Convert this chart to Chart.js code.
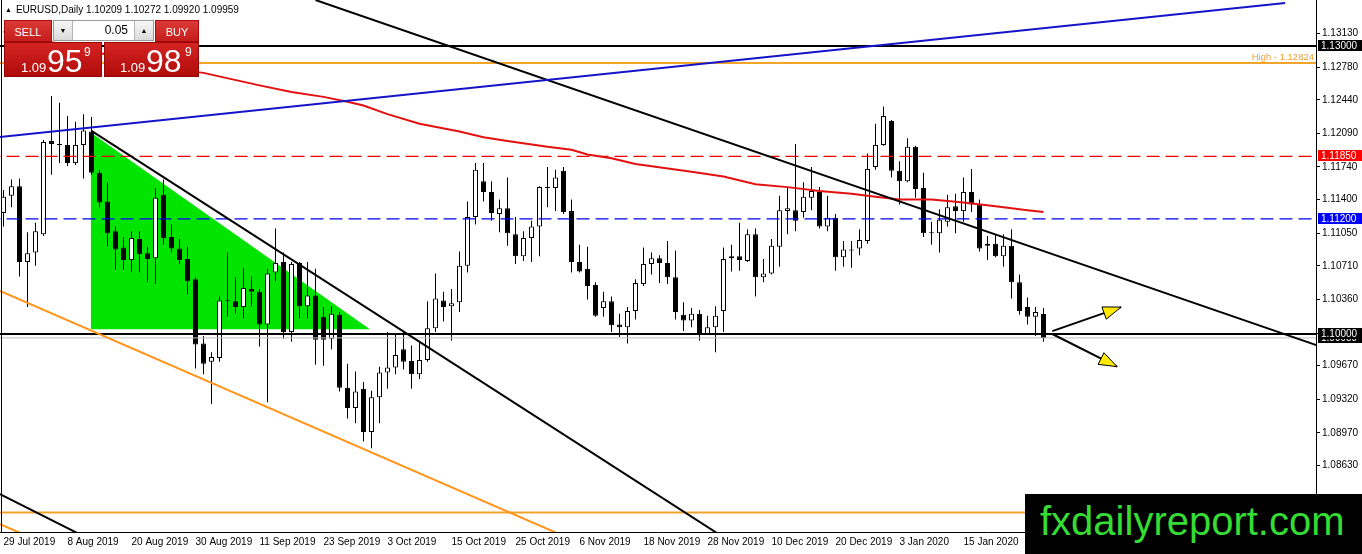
<!DOCTYPE html>
<html>
<head>
<meta charset="utf-8">
<title>EURUSD Daily</title>
<script src="https://cdn.jsdelivr.net/npm/chart.js@4.4.1/dist/chart.umd.min.js"></script>
<style>
  html, body { margin: 0; padding: 0; background: #fff; }
  #wrap { position: relative; width: 1362px; height: 554px; overflow: hidden; font-family: "Liberation Sans", Arial, sans-serif; }
  #chart { position: absolute; left: 0; top: 0; }
  .title { position: absolute; left: 5px; top: 4px; font-size: 10px; line-height: 12px; color: #000; white-space: nowrap; }
  .title .tri { font-size: 7px; vertical-align: 1px; margin-right: 4px; }
  .box { position: absolute; color: #fff; box-sizing: border-box; }
  .btn { top: 20px; height: 22px; font-size: 11px; line-height: 22px; text-align: center;
         background: linear-gradient(#dc3a36, #c51d1b); border: 1px solid #a80c0c; }
  .sell { left: 4px; width: 48px; }
  .buy { left: 155px; width: 44px; }
  .lot { position: absolute; left: 53px; top: 20px; width: 101px; height: 21px; box-sizing: border-box;
         background: #fff; border: 1px solid #9a9a9a; }
  .lot .arr { position: absolute; top: 0; width: 18px; height: 19px; font-size: 7px; line-height: 19px; text-align: center; color: #000;
              background: linear-gradient(#f7f7f7, #dadada); }
  .lot .dn { left: 0; border-right: 1px solid #b5b5b5; }
  .lot .up { right: 0; border-left: 1px solid #b5b5b5; }
  .lot .val { position: absolute; right: 25px; top: 0; font-size: 12px; line-height: 19px; color: #000; }
  .price { top: 42px; height: 35px; background: linear-gradient(#d42422, #b00b0b); border: 1px solid #960606; }
  .p1 { left: 4px; width: 98px; }
  .p2 { left: 104px; width: 95px; }
  .price span { position: absolute; white-space: nowrap; }
  .pre { font-size: 13px; line-height: 13px; top: 18px; }
  .big { font-size: 32px; line-height: 32px; top: 2px; }
  .sup { font-size: 12px; line-height: 12px; top: 3px; }
  .wm { position: absolute; left: 1025px; top: 494px; width: 337px; height: 60px; background: #000; }
  .wm span { position: absolute; left: 15px; top: 7px; font-size: 40px; line-height: 40px; color: #34dc34; white-space: nowrap; }
</style>
</head>
<body>
<div id="wrap">
  <canvas id="chart" width="1362" height="554"></canvas>
  <div class="title"><span class="tri">&#9650;</span>EURUSD,Daily 1.10209 1.10272 1.09920 1.09959</div>
  <div class="box btn sell">SELL</div>
  <div class="lot"><span class="arr dn">&#9660;</span><span class="val">0.05</span><span class="arr up">&#9650;</span></div>
  <div class="box btn buy">BUY</div>
  <div class="box price p1"><span class="pre" style="left:16px">1.09</span><span class="big" style="left:42px">95</span><span class="sup" style="left:79px">9</span></div>
  <div class="box price p2"><span class="pre" style="left:15px">1.09</span><span class="big" style="left:41px">98</span><span class="sup" style="left:80px">9</span></div>
  <div class="wm"><span>fxdailyreport.com</span></div>
</div>
<script>
// daily bars, 29 Jul 2019 .. 29 Jan 2020 (bar index 0..130)
const opens = [
  1.1126, 1.1144, 1.1154, 1.1075, 1.1085, 1.1104, 1.1201, 1.1198, 1.1197, 1.1178,
  1.1197, 1.1211, 1.1168, 1.1138, 1.1107, 1.1090, 1.1077, 1.1099, 1.1084, 1.1079,
  1.1145, 1.1101, 1.1089, 1.1078, 1.1057, 1.0990, 1.0971, 1.0975, 1.1035, 1.1034,
  1.1028, 1.1047, 1.1044, 1.1010, 1.1064, 1.1075, 1.1002, 1.1074, 1.1029, 1.1040,
  1.1018, 1.0995, 1.1020, 1.0944, 1.0923, 1.0943, 1.0898, 1.0934, 1.0960, 1.0965,
  1.0984, 1.0972, 1.0958, 1.0973, 1.1006, 1.1035, 1.1029, 1.1033, 1.1071, 1.1122,
  1.1159, 1.1148, 1.1125, 1.1131, 1.1104, 1.1081, 1.1100, 1.1112, 1.1153, 1.1152,
  1.1170, 1.1128, 1.1075, 1.1068, 1.1051, 1.1027, 1.1034, 1.1010, 1.1007, 1.1024,
  1.1052, 1.1073, 1.1079, 1.1074, 1.1059, 1.1020, 1.1014, 1.1021, 1.1000, 1.1007,
  1.1024, 1.1079, 1.1081, 1.1076, 1.1104, 1.1059, 1.1063, 1.1091, 1.1128, 1.1129,
  1.1127, 1.1142, 1.1148, 1.1112, 1.1121, 1.1080, 1.1088, 1.1089, 1.1097, 1.1174,
  1.1197, 1.1222, 1.1170, 1.1159, 1.1195, 1.1152, 1.1106, 1.1105, 1.1117, 1.1133,
  1.1128, 1.1148, 1.1135, 1.1094, 1.1094, 1.1081, 1.1092, 1.1054, 1.1028, 1.1018, 1.10209
];
const highs = [
  1.1150, 1.1161, 1.1162, 1.1106, 1.1116, 1.1202, 1.1248, 1.1241, 1.1227, 1.1221,
  1.1229, 1.1226, 1.1171, 1.1158, 1.1112, 1.1101, 1.1107, 1.1107, 1.1091, 1.1152,
  1.1161, 1.1114, 1.1099, 1.1091, 1.1059, 1.0998, 1.0981, 1.1039, 1.1085, 1.1059,
  1.1069, 1.1060, 1.1047, 1.1068, 1.1110, 1.1085, 1.1075, 1.1075, 1.1075, 1.1068,
  1.1028, 1.1029, 1.1023, 1.0969, 1.0961, 1.0950, 1.0941, 1.0966, 1.1002, 1.1000,
  1.1002, 1.0988, 1.0992, 1.1034, 1.1063, 1.1044, 1.1047, 1.1086, 1.1138, 1.1178,
  1.1178, 1.1159, 1.1140, 1.1163, 1.1122, 1.1107, 1.1118, 1.1154, 1.1174, 1.1171,
  1.1174, 1.1140, 1.1093, 1.1091, 1.1054, 1.1044, 1.1039, 1.1021, 1.1028, 1.1057,
  1.1090, 1.1085, 1.1082, 1.1097, 1.1087, 1.1033, 1.1027, 1.1025, 1.1019, 1.1029,
  1.1090, 1.1093, 1.1116, 1.1109, 1.1110, 1.1078, 1.1099, 1.1144, 1.1153, 1.1198,
  1.1158, 1.1174, 1.1153, 1.1144, 1.1125, 1.1097, 1.1097, 1.1109, 1.1188, 1.1219,
  1.1237, 1.1223, 1.1180, 1.1204, 1.1196, 1.1168, 1.1117, 1.1130, 1.1145, 1.1146,
  1.1163, 1.1172, 1.1140, 1.1102, 1.1103, 1.1104, 1.1109, 1.1062, 1.1038, 1.1028, 1.10272
];
const lows = [
  1.1112, 1.1132, 1.1060, 1.1028, 1.1071, 1.1102, 1.1166, 1.1178, 1.1175, 1.1176,
  1.1162, 1.1166, 1.1132, 1.1091, 1.1067, 1.1067, 1.1065, 1.1064, 1.1054, 1.1052,
  1.1093, 1.1085, 1.1073, 1.1041, 1.0964, 1.0958, 1.0927, 1.0971, 1.1018, 1.1021,
  1.1016, 1.1029, 1.0987, 1.0929, 1.1055, 1.0995, 1.0992, 1.1016, 1.1016, 1.0968,
  1.0967, 1.0984, 1.0940, 1.0912, 1.0907, 1.0888, 1.0881, 1.0907, 1.0943, 1.0958,
  1.0963, 1.0943, 1.0953, 1.0971, 1.1002, 1.1013, 1.0993, 1.1023, 1.1064, 1.1114,
  1.1138, 1.1118, 1.1106, 1.1092, 1.1073, 1.1076, 1.1075, 1.1081, 1.1132, 1.1128,
  1.1125, 1.1064, 1.1064, 1.1036, 1.1018, 1.1018, 1.1002, 1.0997, 1.0990, 1.1015,
  1.1050, 1.1062, 1.1053, 1.1052, 1.1015, 1.1003, 1.1007, 1.0993, 1.0999, 1.0981,
  1.1002, 1.1065, 1.1066, 1.1075, 1.1039, 1.1054, 1.1062, 1.1070, 1.1104, 1.1107,
  1.1121, 1.1129, 1.1110, 1.1107, 1.1066, 1.1070, 1.1069, 1.1082, 1.1094, 1.1171,
  1.1196, 1.1163, 1.1135, 1.1158, 1.1142, 1.1101, 1.1093, 1.1085, 1.1112, 1.1105,
  1.1117, 1.1127, 1.1086, 1.1077, 1.1080, 1.1070, 1.1037, 1.1020, 1.1010, 1.0998, 1.09920
];
const closes = [
  1.1143, 1.1154, 1.1075, 1.1084, 1.1107, 1.1200, 1.1198, 1.1197, 1.1178, 1.1197,
  1.1212, 1.1168, 1.1137, 1.1105, 1.1088, 1.1077, 1.1100, 1.1083, 1.1078, 1.1142,
  1.1100, 1.1089, 1.1077, 1.1055, 1.0989, 1.0969, 1.0976, 1.1035, 1.1034, 1.1028,
  1.1048, 1.1044, 1.1010, 1.1063, 1.1074, 1.1002, 1.1073, 1.1029, 1.1040, 1.0994,
  1.0994, 1.1021, 1.0944, 1.0923, 1.0940, 1.0898, 1.0934, 1.0960, 1.0965, 1.0978,
  1.0971, 1.0958, 1.0973, 1.1006, 1.1037, 1.1028, 1.1032, 1.1071, 1.1122, 1.1171,
  1.1148, 1.1126, 1.1131, 1.1105, 1.1081, 1.1100, 1.1112, 1.1153, 1.1152, 1.1163,
  1.1127, 1.1075, 1.1065, 1.1050, 1.1019, 1.1034, 1.1009, 1.1007, 1.1024, 1.1053,
  1.1073, 1.1079, 1.1074, 1.1059, 1.1023, 1.1014, 1.1021, 1.1000, 1.1007, 1.1019,
  1.1078, 1.1081, 1.1077, 1.1104, 1.1059, 1.1063, 1.1092, 1.1129, 1.1131, 1.1118,
  1.1143, 1.1149, 1.1112, 1.1121, 1.1080, 1.1088, 1.1087, 1.1098, 1.1172, 1.1197,
  1.1227, 1.1170, 1.1159, 1.1195, 1.1151, 1.1105, 1.1105, 1.1119, 1.1132, 1.1128,
  1.1148, 1.1135, 1.1089, 1.1092, 1.1081, 1.1092, 1.1054, 1.1024, 1.1018, 1.1023, 1.09959
];

// red moving average, read at some bars
const maIdx = [0, 21, 25, 32, 36, 40, 43, 45, 48, 52, 57, 60, 63, 68, 71, 73, 76, 79, 86, 90, 94, 98, 102, 106, 109, 112, 116, 120, 124, 128, 130];
const maVal = [1.1315, 1.1276, 1.1272, 1.1259, 1.1252, 1.1247, 1.1242, 1.1238, 1.1229, 1.1219, 1.1211, 1.1205, 1.1201, 1.1195, 1.1192, 1.1187,
               1.1183, 1.1177, 1.1169, 1.1164, 1.1156, 1.1153, 1.1149, 1.1146, 1.1143, 1.1140, 1.1140, 1.1137, 1.1133, 1.1129, 1.1127];

// date axis
const dateIdx = [0, 8, 16, 24, 32, 40, 48, 56, 64, 72, 80, 88, 96, 104, 112, 120];
const dateLabels = ['29 Jul 2019', '8 Aug 2019', '20 Aug 2019', '30 Aug 2019', '11 Sep 2019', '23 Sep 2019', '3 Oct 2019', '15 Oct 2019',
                    '25 Oct 2019', '6 Nov 2019', '18 Nov 2019', '28 Nov 2019', '10 Dec 2019', '20 Dec 2019', '3 Jan 2020', '15 Jan 2020'];

// price axis
const yTicks = [1.1313, 1.1278, 1.1244, 1.1209, 1.1174, 1.1140, 1.1105, 1.1071, 1.1036, 1.1001, 1.0967, 1.0932, 1.0897, 1.0863, 1.0828];

// horizontal levels: 1.13, high, red dashed, blue dashed, 1.10, bid, lower orange
const levels = [1.13000, 1.12824, 1.11850, 1.11200, 1.10000, 1.09959, 1.08140];
const highLevel = 1.12824;

// trend lines [[bar, price], [bar, price]]
const blueTrend = [[-0.44, 1.12052], [160.2, 1.13448]];
const longDownTrend = [[39, 1.13479], [170, 1.09715]];
const wedgeTrend = [[11, 1.12115], [95, 1.07615]];
const cornerTrend = [[-0.44, 1.08333], [12, 1.07810]];
const channelLow = [[-0.44, 1.10448], [74.6, 1.07730]];
const channelLow2 = [[-0.44, 1.08020], [3.4, 1.07880]];

// green triangle
const triangleEdge = [[10.9, 1.1210], [45.8, 1.1005]];
const triangleBase = 1.1005;

// arrows
const arrowStarts = [[131.1, 1.1003], [131.1, 1.1000]];
const arrowEnds = [[139.7, 1.1028], [139.2, 1.0966]];

// scale ranges (1.13 sits at y=46, 9600 px per unit)
const xMin = -0.4375, xMax = xMin + 1316 / 8;
const yMin = 1.13 - 486 / 9600, yMax = 1.13 + 46 / 9600;

const FONT = '"Liberation Sans", Arial, sans-serif';
Chart.defaults.font.family = FONT;
Chart.defaults.font.size = 10;
Chart.defaults.color = '#000';

const pts = (pairs) => pairs.map(p => ({x: p[0], y: p[1]}));
const bars = opens.map((o, i) => i);

const lineSet = (pairs, color, width, order, dash) => ({
  type: 'line', data: pts(pairs), borderColor: color, borderWidth: width, borderDash: dash || [],
  pointRadius: 0, fill: false, order: order, clip: 0
});

const levelStyles = [
  ['#000000', 2, []], ['#f0a52a', 2, []], ['#ee0000', 1.3, [13, 6]], ['#0000ee', 1.3, [13, 6]],
  ['#000000', 2, []], ['#c0c0c0', 1, []], ['#f0a52a', 2, []]
];

const datasets = [];
datasets.push({
  type: 'line', data: pts(triangleEdge), borderColor: 'rgba(0,0,0,0)', borderWidth: 0, pointRadius: 0,
  backgroundColor: '#00e400', fill: {value: triangleBase}, order: 100, clip: 0
});
datasets.push({
  type: 'bar', data: bars.map(i => ({x: i, y: [lows[i], highs[i]]})), backgroundColor: '#000',
  barThickness: 1, grouped: false, inflateAmount: 0, borderWidth: 0, order: 50, clip: 0
});
datasets.push({
  type: 'bar', data: bars.map(i => ({x: i, y: [opens[i], closes[i]]})),
  backgroundColor: (c) => closes[c.dataIndex] > opens[c.dataIndex] ? '#fff' : '#000',
  borderColor: '#000', borderWidth: 1, borderSkipped: false, minBarLength: 1,
  barThickness: 5, grouped: false, inflateAmount: 0, order: 40, clip: 0
});
levels.forEach((v, k) => {
  const s = levelStyles[k];
  datasets.push(lineSet([[-2, v], [170, v]], s[0], s[1], k === 5 ? 35 : 20, s[2]));
});
datasets.push({
  type: 'line', data: maIdx.map((b, k) => ({x: b, y: maVal[k]})), borderColor: '#e41010', borderWidth: 2,
  pointRadius: 0, fill: false, order: 12, clip: 0
});
datasets.push(lineSet(blueTrend, '#1414c8', 2, 10));
datasets.push(lineSet(longDownTrend, '#000', 2, 10));
datasets.push(lineSet(wedgeTrend, '#000', 2, 10));
datasets.push(lineSet(cornerTrend, '#000', 2, 10));
datasets.push(lineSet(channelLow, '#ff9418', 2, 10));
datasets.push(lineSet(channelLow2, '#ff9418', 2, 10));
arrowStarts.forEach((a, k) => datasets.push(lineSet([a, arrowEnds[k]], '#000', 2, 5)));

const tagStyles = {'1.13000': '#000', '1.11850': '#ff0000', '1.11200': '#0000ff', '1.10000': '#000', '1.09959': '#000'};
const tagOrder = [1.09959, 1.13000, 1.11850, 1.11200, 1.10000];

const overlay = {
  id: 'overlay',
  afterDraw(chart) {
    const {ctx, chartArea: area, scales: {x, y}} = chart;
    ctx.save();
    // left frame
    ctx.strokeStyle = '#000';
    ctx.lineWidth = 1;
    ctx.beginPath();
    ctx.moveTo(area.left + 1.5, area.top);
    ctx.lineTo(area.left + 1.5, area.bottom);
    ctx.stroke();

    // arrow heads
    arrowStarts.forEach((a, k) => {
      const b = arrowEnds[k];
      const x0 = x.getPixelForValue(a[0]), y0 = y.getPixelForValue(a[1]);
      const x1 = x.getPixelForValue(b[0]), y1 = y.getPixelForValue(b[1]);
      const ang = Math.atan2(y1 - y0, x1 - x0);
      const len = 18, hw = 6.5;
      const bx = x1 - len * Math.cos(ang), by = y1 - len * Math.sin(ang);
      ctx.beginPath();
      ctx.moveTo(x1, y1);
      ctx.lineTo(bx + hw * Math.sin(ang), by - hw * Math.cos(ang));
      ctx.lineTo(bx - hw * Math.sin(ang), by + hw * Math.cos(ang));
      ctx.closePath();
      ctx.fillStyle = '#ffea00';
      ctx.fill();
      ctx.strokeStyle = '#000';
      ctx.lineWidth = 1;
      ctx.stroke();
    });

    // "High" caption
    ctx.font = '9.5px ' + FONT;
    ctx.fillStyle = '#eea236';
    ctx.textAlign = 'right';
    ctx.textBaseline = 'alphabetic';
    ctx.fillText('High - ' + highLevel.toFixed(5), area.right - 2, y.getPixelForValue(highLevel) - 2.5);

    // price tags on the axis
    ctx.font = '10px ' + FONT;
    ctx.textAlign = 'left';
    ctx.textBaseline = 'middle';
    tagOrder.forEach(v => {
      const py = Math.round(y.getPixelForValue(v));
      ctx.fillStyle = tagStyles[v.toFixed(5)];
      ctx.fillRect(area.right + 2, py - 6, 44, 11);
      ctx.fillStyle = '#fff';
      ctx.fillText(v.toFixed(5), area.right + 5, py);
    });
    ctx.restore();
  }
};

new Chart(document.getElementById('chart'), {
  type: 'bar',
  data: {datasets: datasets},
  options: {
    responsive: false,
    animation: false,
    events: [],
    layout: {padding: 0},
    plugins: {legend: {display: false}, tooltip: {enabled: false}},
    scales: {
      x: {
        type: 'linear', min: xMin, max: xMax, offset: false,
        afterFit: (s) => { s.height = 22; s.paddingLeft = 0; s.paddingRight = 0; },
        afterBuildTicks: (s) => { s.ticks = dateIdx.map(v => ({value: v})); },
        ticks: {
          callback: (v, k) => dateLabels[k], align: 'start', autoSkip: false, maxRotation: 0,
          padding: 4, color: '#000', font: {family: FONT, size: 10}
        },
        grid: {display: false, drawTicks: false},
        border: {display: true, color: '#000', width: 1}
      },
      y: {
        type: 'linear', position: 'right', min: yMin, max: yMax, beginAtZero: false,
        afterFit: (s) => { s.width = 46; s.paddingTop = 0; s.paddingBottom = 0; },
        afterBuildTicks: (s) => { s.ticks = yTicks.map(v => ({value: v})); },
        ticks: {
          callback: (v) => Number(v).toFixed(5), padding: 2, color: '#000', font: {family: FONT, size: 10}
        },
        grid: {drawOnChartArea: false, drawTicks: true, tickLength: 4, color: '#000'},
        border: {display: true, color: '#000', width: 1}
      }
    }
  },
  plugins: [overlay]
});
</script>
</body>
</html>
